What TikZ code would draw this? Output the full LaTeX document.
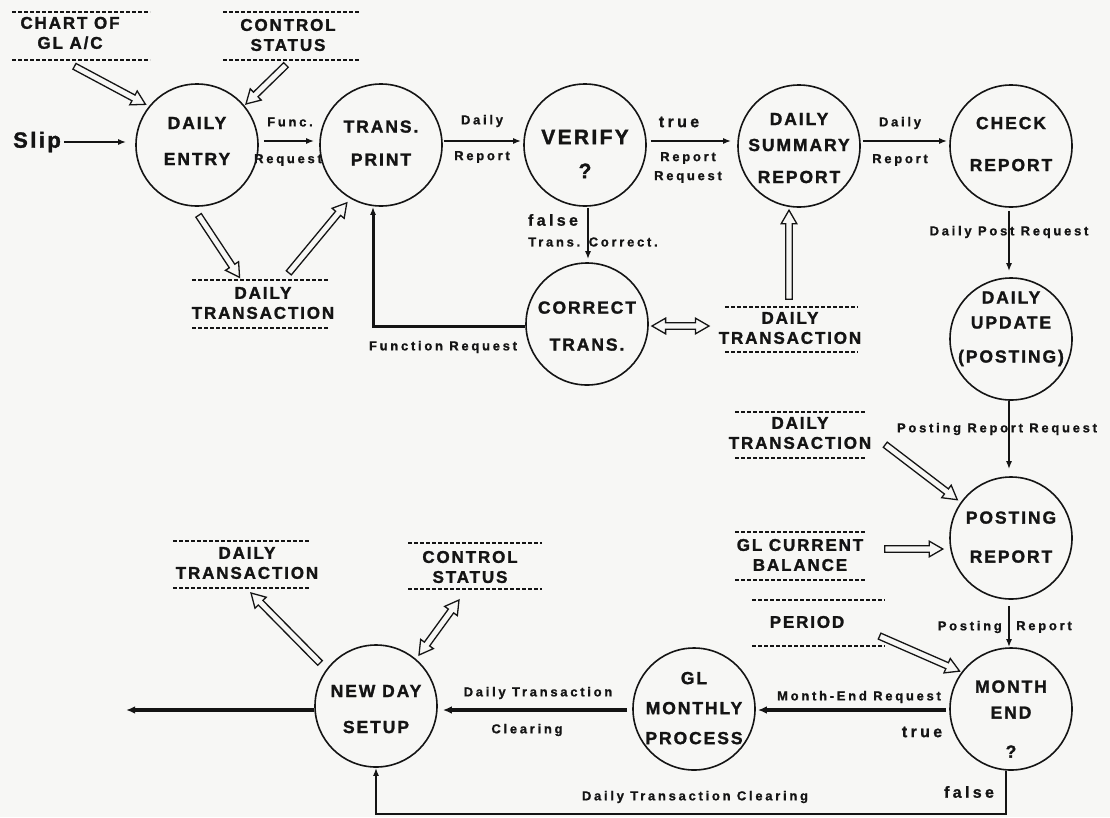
\documentclass[tikz,border=0pt]{standalone}
\usepackage{fontspec}
\setmainfont{Liberation Sans}
\newfontfamily\capfont[LetterSpace=11,FakeBold=1.5]{Liberation Sans Bold}
\newfontfamily\smallfont[LetterSpace=21,FakeBold=1]{Liberation Sans Bold}
\usetikzlibrary{arrows.meta,calc,shapes.arrows}

\definecolor{paper}{RGB}{247,247,245}
\definecolor{ink}{RGB}{20,20,20}

\tikzset{
  proc/.style={circle, draw=ink, line width=1.6pt, minimum size=122pt, inner sep=0pt},
  proctext/.style={inner sep=0pt, align=center, text=ink, text depth=0pt,
    font={\capfont\fontsize{17.5}{20}\selectfont}},
  store/.style={inner sep=0pt, align=center, text=ink,
    font={\capfont\fontsize{17}{20}\selectfont}},
  storeline/.style={draw=ink, line width=1.4pt, dash pattern=on 3.5pt off 2.5pt},
  lbl/.style={inner sep=0pt, text=ink, font={\smallfont\fontsize{13}{15}\selectfont}},
  cond/.style={inner sep=0pt, text=ink, font={\smallfont\fontsize{16}{18}\selectfont}},
  flow/.style={draw=ink, line width=2pt, -{Latex[length=8pt,width=6pt]}},
  heavy/.style={draw=ink, line width=3.2pt, -{Latex[length=9pt,width=7.5pt]}},
  hollow/.style={single arrow, draw=ink, fill=paper, line width=1.3pt,
    inner xsep=0pt, inner ysep=2.6pt, minimum width=15pt,
    single arrow head extend=4.6pt, single arrow tip angle=60},
  hollowtwo/.style={double arrow, draw=ink, fill=paper, line width=1.3pt,
    inner xsep=0pt, inner ysep=2.6pt, minimum width=15pt,
    double arrow head extend=4.6pt, double arrow tip angle=60},
}

% data store: name, x, y, text, line x-from, line x-to, upper line y, lower line y
\newcommand\dstore[8]{%
  \node[store] (#1) at (#2,#3) {#4};
  \draw[storeline] (#5,#7) -- (#6,#7);
  \draw[storeline] (#5,#8) -- (#6,#8);}

% outlined data-flow arrow between two points: [style]{name}{from}{to}
\newcommand\harrow[4][hollow]{%
  \path let \p1=#3, \p2=#4, \n1={veclen(\x2-\x1,\y2-\y1)} in
    #3 -- #4 node[#1, midway, sloped, allow upside down, minimum height=\n1] (#2) {};}

\begin{document}
\begin{tikzpicture}[x=1pt,y=-1pt]
\fill[paper] (0,0) rectangle (1110,817);
\useasboundingbox (0,0) rectangle (1110,817);

% processes
\node[proc] (entry)   at (197,145) {};
\node[proc] (print)   at (381,145) {};
\node[proc] (verify)  at (585,145) {};
\node[proc] (summary) at (799,146) {};
\node[proc] (check)   at (1011,146) {};
\node[proc] (correct) at (587,324) {};
\node[proc] (update)  at (1011,339) {};
\node[proc] (posting) at (1011,538) {};
\node[proc] (month)   at (1011,709) {};
\node[proc] (gl)      at (694,709) {};
\node[proc] (newday)  at (376,706) {};

% process names
\node[proctext] (entryT)   at (197,141) {DAILY\\[16pt]ENTRY};
\node[proctext] (printT)   at (381,143) {TRANS.\\[13pt]PRINT};
\node[proctext, font={\capfont\fontsize{21}{24}\selectfont}] (verifyT) at (585,154) {VERIFY\\[10pt]?};
\node[proctext] (summaryT) at (799,148) {DAILY\\[6pt]SUMMARY\\[12pt]REPORT};
\node[proctext] (checkT)   at (1011,144) {CHECK\\[22pt]REPORT};
\node[proctext] (correctT) at (587,326) {CORRECT\\[17pt]TRANS.};
\node[proctext] (updateT)  at (1011,327) {DAILY\\[5pt]UPDATE\\[14pt](POSTING)};
\node[proctext] (postingT) at (1011,537) {POSTING\\[19pt]REPORT};
\node[proctext] (monthT)   at (1011,719) {MONTH\\[6pt]END\\[19pt]?};
\node[proctext] (glT)      at (694,708) {GL\\[10pt]MONTHLY\\[10pt]PROCESS};
\node[proctext] (newdayT)  at (376,709) {NEW DAY\\[16pt]SETUP};

% data stores
\dstore{chart}{70}{33}{CHART OF\\GL A/C}{12}{150}{12}{60}
\dstore{ctlA}{288}{35}{CONTROL\\STATUS}{223}{360}{12}{60}
\dstore{dtA}{263}{303}{DAILY\\TRANSACTION}{192}{328}{280}{328}
\dstore{dtB}{790}{328}{DAILY\\TRANSACTION}{725}{858}{307}{352}
\dstore{dtC}{800}{433}{DAILY\\TRANSACTION}{735}{865}{412}{458}
\dstore{glcb}{800}{555}{GL CURRENT\\BALANCE}{735}{865}{532}{580}
\dstore{period}{807}{622}{PERIOD}{752}{885}{600}{646}
\dstore{dtD}{247}{563}{DAILY\\TRANSACTION}{173}{310}{541}{588}
\dstore{ctlB}{470}{567}{CONTROL\\STATUS}{408}{542}{543}{589}

% external input and output
\node[inner sep=0pt, text=ink, font={\capfont\fontsize{22}{24}\selectfont}] (slip) at (37,142) {Slip};
\coordinate (exit) at (126,710);

% store flows
\harrow{hA}{($(chart)+(2,32)$)}{($(entry)+(-54,-42)$)}
\harrow{hB}{($(ctlA)+(0,28)$)}{($(entry)+(51,-43)$)}
\harrow{hC}{($(entry)+(0,68)$)}{($(dtA)+(-25,-28)$)}
\harrow{hD}{($(dtA)+(24,-28)$)}{($(print)+(-36,60)$)}
\harrow{hE}{($(dtB)+(-1,-26)$)}{($(summary)+(-10,67)$)}
\harrow[hollowtwo]{hF}{($(correct)+(65,2)$)}{($(dtB)+(-81,-2)$)}
\harrow{hG}{($(dtC)+(83,10)$)}{($(posting)+(-56,-40)$)}
\harrow{hH}{($(glcb)+(82,-6)$)}{($(posting)+(-71,11)$)}
\harrow{hI}{($(period)+(70,13)$)}{($(month)+(-54,-39)$)}
\harrow{hJ}{($(newday)+(-54,-41)$)}{($(dtD)+(6,32)$)}
\harrow[hollowtwo]{hK}{($(newday)+(43,-51)$)}{($(ctlB)+(-11,33)$)}

% process flows
\draw[flow, shorten <=3pt, shorten >=9pt] (slip.east) -- (slip.east -| entry.west);
\draw[flow, shorten <=5pt, shorten >=5pt] ([yshift=4pt]entry.east) -- ([yshift=4pt]print.west);
\draw[flow, shorten <=1pt, shorten >=2pt] ([yshift=4pt]print.east) -- ([yshift=4pt]verify.west);
\draw[flow, shorten <=4pt, shorten >=6pt] ([yshift=4pt]verify.east) -- ([yshift=4pt]verify.east -| summary.west);
\draw[flow, shorten <=2pt, shorten >=2pt] ([yshift=5pt]summary.east) -- ([yshift=5pt]check.west);
\draw[flow, shorten <=3pt, shorten >=6pt] ([xshift=-2pt]check.south) -- ([xshift=-2pt]update.north);
\draw[flow, shorten >=7pt] ([xshift=-2pt]update.south) -- ([xshift=-2pt]posting.north);
\draw[flow, shorten <=6pt] ([xshift=-2pt]posting.south) -- ([xshift=-2pt]month.north);
\draw[flow, shorten <=1pt, shorten >=3pt] ([xshift=3pt]verify.south) -- ([xshift=3pt]verify.south |- correct.north);
\draw[flow, line width=3pt] ([yshift=-2pt]correct.west) -| ([xshift=-8pt]print.south);
\draw[heavy, shorten <=3pt, shorten >=2pt] ([yshift=-1pt]month.west) -- ([yshift=-1pt]gl.east);
\draw[heavy, shorten <=5pt, shorten >=5pt] ([yshift=-1pt]gl.west) -- ([yshift=-1pt]gl.west -| newday.east);
\draw[heavy] ([yshift=-1pt]gl.west -| newday.west) -- (exit);
\draw[flow, line width=2.4pt] ([xshift=-5pt]month.south) -- ++(0,43) -| (newday.south);

% flow labels
\node[lbl] (fA) at (290,122) {Func.};
\node[lbl] (fB) at (288,160) {Request};
\node[lbl] (dA) at (482,121) {Daily};
\node[lbl] (dB) at (482,157) {Report};
\node[cond] (tA) at (679,122) {true};
\node[lbl] (rA) at (688,158) {Report};
\node[lbl] (rB) at (688,177) {Request};
\node[lbl] (sA) at (900,123) {Daily};
\node[lbl] (sB) at (900,160) {Report};
\node[lbl] (pA) at (1009,232) {Daily Post Request};
\node[lbl] (pB) at (997,429) {Posting Report Request};
\node[lbl, anchor=east] (pC) at (1002,627) {Posting};
\node[lbl, anchor=west] (pD) at (1016,627) {Report};
\node[lbl] (mA) at (859,697) {Month-End Request};
\node[cond] (tB) at (922,732) {true};
\node[lbl] (cA) at (538,693) {Daily Transaction};
\node[lbl] (cB) at (527,730) {Clearing};
\node[cond] (fC) at (969,792) {false};
\node[lbl] (cC) at (695,797) {Daily Transaction Clearing};
\node[cond] (fD) at (553,220) {false};
\node[lbl] (tC) at (593,242) {Trans. Correct.};
\node[lbl] (fE) at (443,347) {Function Request};
\end{tikzpicture}
\end{document}
